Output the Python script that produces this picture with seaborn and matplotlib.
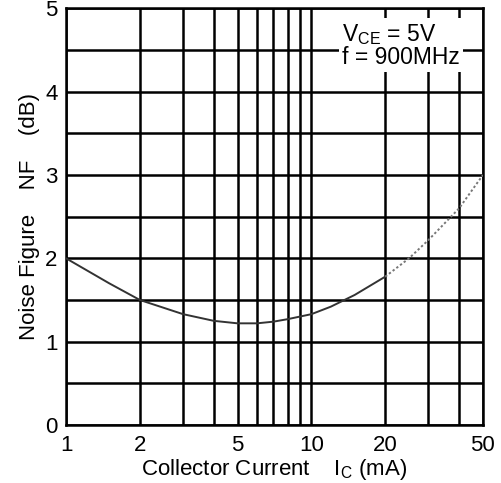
import matplotlib
matplotlib.use("Agg")
import matplotlib.pyplot as plt
import seaborn as sns
import pandas as pd

sns.set_theme(style="white")
plt.rcParams['font.family'] = ['Liberation Sans', 'DejaVu Sans']
plt.rcParams['mathtext.fontset'] = 'custom'
plt.rcParams['mathtext.rm'] = 'Liberation Sans'
plt.rcParams['mathtext.it'] = 'Liberation Sans'

# data
current_solid = [1, 1.5, 2, 3, 4, 5, 6, 7, 8, 10, 12, 15, 20]
nf_solid = [2.0, 1.70, 1.50, 1.33, 1.25, 1.22, 1.22, 1.24, 1.27, 1.33, 1.42, 1.56, 1.78]
current_dotted = [20, 25, 30, 40, 50]
nf_dotted = [1.78, 2.0, 2.22, 2.6, 3.0]

x_major = [1, 2, 5, 10, 20, 50]
x_minor = [3, 4, 6, 7, 8, 9, 30, 40]
x_labels = ["1", "2", "5", "10", "20", "50"]
y_major = [0, 1, 2, 3, 4, 5]
y_minor = [0.5, 1.5, 2.5, 3.5, 4.5]

FS = 16

fig = plt.figure(figsize=(5.02, 4.83), dpi=100)
ax = fig.add_axes([0.1315, 0.12, 0.8305, 0.863])

df_s = pd.DataFrame({"Ic": current_solid, "NF": nf_solid})
df_d = pd.DataFrame({"Ic": current_dotted, "NF": nf_dotted})
sns.lineplot(data=df_s, x="Ic", y="NF", ax=ax, color="#333333", lw=1.4, zorder=3)
sns.lineplot(data=df_d, x="Ic", y="NF", ax=ax, color="#777777", lw=1.4,
             linestyle=(0, (1.2, 1.2)), zorder=3)

ax.set_xscale("log")
ax.set_xlim(1, 50)
ax.set_ylim(0, 5)
ax.set_xticks(x_major)
ax.set_xticklabels(x_labels)
ax.set_xticks(x_minor, minor=True)
ax.set_xticklabels([], minor=True)
ax.set_yticks(y_major)
ax.set_yticks(y_minor, minor=True)
ax.grid(True, which="both", color="black", lw=1.8)
ax.set_axisbelow(True)
for s in ax.spines.values():
    s.set_color("black")
    s.set_linewidth(1.8)
ax.tick_params(axis="both", which="both", length=0, labelsize=FS, colors="black")
ax.tick_params(axis="x", pad=7)
ax.tick_params(axis="y", pad=6)

ax.set_xlabel(r"Collector Current    I$_{\mathregular{C}}$ (mA)", fontsize=FS, labelpad=1, color="black")
ax.set_ylabel("Noise Figure    NF    (dB)", fontsize=FS, labelpad=4, color="black")

ax.text(0.662, 0.967, "V$_{\\mathregular{CE}}$ = 5V\nf = 900MHz", transform=ax.transAxes,
        ha="left", va="top", fontsize=FS + 0.5, color="black", linespacing=0.95,
        bbox=dict(facecolor="white", edgecolor="none", pad=2), zorder=5)

fig.savefig("out.png", dpi=100)
